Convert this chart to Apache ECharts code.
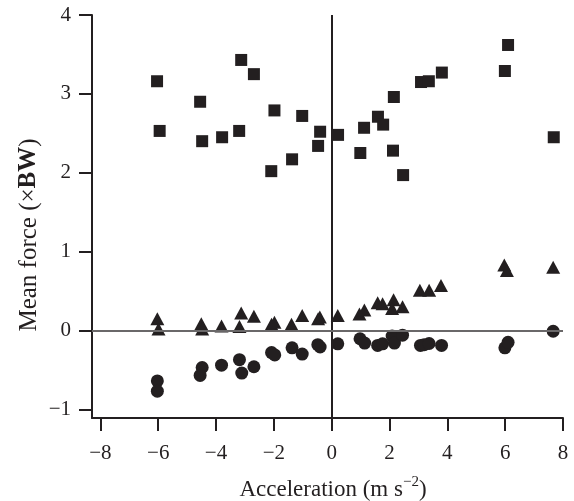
<!DOCTYPE html>
<html>
<head>
<meta charset="utf-8">
<script src="https://cdn.jsdelivr.net/npm/echarts@6/dist/echarts.min.js"></script>
<style>
  html, body { margin: 0; padding: 0; background: #fff; }
  #chart { width: 574px; height: 501px; }
</style>
</head>
<body>
<div id="chart"></div>
<script>
// Mean force (in body weights) against acceleration, three measures.
const squareAccel = [-6.04, -5.95, -4.55, -4.48, -3.79, -3.20, -3.13, -2.69, -1.98, -2.09, -1.37, -1.02, -0.40, -0.47, 0.22, 1.12, 0.99, 1.60, 1.78, 2.15, 2.12, 2.47, 3.09, 3.36, 3.81, 5.99, 6.10, 7.68];
const squareForce = [3.16, 2.53, 2.90, 2.40, 2.45, 2.53, 3.43, 3.25, 2.79, 2.02, 2.17, 2.72, 2.52, 2.34, 2.48, 2.57, 2.25, 2.71, 2.61, 2.96, 2.28, 1.97, 3.15, 3.16, 3.27, 3.29, 3.62, 2.45];

const triangleAccel = [-6.03, -5.99, -4.51, -4.48, -3.81, -3.19, -3.13, -2.69, -2.08, -1.98, -1.39, -1.02, -0.47, -0.41, 0.21, 0.96, 1.13, 1.59, 1.76, 2.14, 2.09, 2.45, 3.05, 3.37, 3.78, 5.97, 6.06, 7.66];
const triangleForce = [0.15, 0.02, 0.085, 0.02, 0.055, 0.05, 0.22, 0.18, 0.08, 0.105, 0.08, 0.19, 0.15, 0.17, 0.19, 0.21, 0.26, 0.35, 0.34, 0.39, 0.28, 0.30, 0.51, 0.51, 0.57, 0.83, 0.76, 0.80];

const circleAccel = [-6.03, -6.03, -4.48, -4.55, -3.81, -3.19, -3.11, -2.69, -2.08, -1.97, -1.37, -1.02, -0.48, -0.40, 0.21, 0.98, 1.14, 1.59, 1.76, 2.09, 2.17, 2.45, 3.07, 3.20, 3.37, 3.80, 5.99, 6.10, 7.66];
const circleForce = [-0.64, -0.77, -0.47, -0.57, -0.44, -0.37, -0.54, -0.46, -0.28, -0.31, -0.22, -0.30, -0.18, -0.21, -0.17, -0.105, -0.16, -0.19, -0.17, -0.07, -0.16, -0.06, -0.19, -0.18, -0.165, -0.19, -0.22, -0.15, -0.01];

const xTicks = [-8, -6, -4, -2, 0, 2, 4, 6, 8];
const yTicks = [-1, 0, 1, 2, 3, 4];

const ink = '#231f20';
const serif = '"Liberation Serif", "DejaVu Serif", serif';

function pairs(xs, ys) {
  return xs.map((x, i) => [x, ys[i]]);
}

function signed(v) {
  return v < 0 ? '\u2212' + Math.abs(v) : String(v);
}

const chart = echarts.init(document.getElementById('chart'));

const axisCommon = {
  axisLine: { show: true, onZero: false, lineStyle: { color: ink, width: 2 } },
  axisTick: { show: true, inside: false, length: 13, lineStyle: { color: ink, width: 2 } },
  splitLine: { show: false },
  axisLabel: { color: ink, fontFamily: serif, fontSize: 21 }
};

const markStyle = { color: ink, opacity: 1 };

chart.setOption({
  animation: false,
  backgroundColor: '#ffffff',
  grid: { left: 92, right: 11, top: 15, bottom: 83, containLabel: false },
  xAxis: {
    type: 'value',
    min: -8.29,
    max: 8,
    ...axisCommon,
    axisTick: { ...axisCommon.axisTick, customValues: xTicks },
    axisLabel: { ...axisCommon.axisLabel, margin: 25, customValues: xTicks, formatter: signed }
  },
  yAxis: {
    type: 'value',
    min: -1.11,
    max: 4,
    ...axisCommon,
    axisTick: { ...axisCommon.axisTick, customValues: yTicks },
    axisLabel: { ...axisCommon.axisLabel, margin: 21, customValues: yTicks, formatter: signed }
  },
  series: [
    {
      type: 'scatter',
      data: pairs(squareAccel, squareForce),
      symbol: 'rect',
      symbolSize: 12,
      itemStyle: markStyle,
      z: 3,
      markLine: {
        silent: true,
        symbol: 'none',
        label: { show: false },
        data: [
          { xAxis: 0, lineStyle: { color: ink, width: 2, type: 'solid' } },
          { yAxis: 0, lineStyle: { color: '#6a6869', width: 2, type: 'solid' } }
        ]
      }
    },
    {
      type: 'scatter',
      data: pairs(triangleAccel, triangleForce),
      symbol: 'triangle',
      symbolSize: [14, 13],
      itemStyle: markStyle,
      z: 3
    },
    {
      type: 'scatter',
      data: pairs(circleAccel, circleForce),
      symbol: 'circle',
      symbolSize: 13,
      itemStyle: markStyle,
      z: 3
    }
  ],
  graphic: [
    {
      type: 'text',
      x: 333,
      y: 488,
      style: {
        text: '{a|Acceleration (m s}{sup|\u22122}{a|)}',
        align: 'center',
        verticalAlign: 'middle',
        rich: {
          a: { fontFamily: serif, fontSize: 23, fill: ink, lineHeight: 26, verticalAlign: 'bottom' },
          sup: { fontFamily: serif, fontSize: 15, fill: ink, lineHeight: 26, verticalAlign: 'top', padding: [0, 0, 8, 0] }
        }
      }
    },
    {
      type: 'text',
      x: 29,
      y: 235,
      rotation: Math.PI / 2,
      style: {
        text: '{a|Mean force (\u00d7}{b|BW}{a|)}',
        align: 'center',
        verticalAlign: 'middle',
        rich: {
          a: { fontFamily: serif, fontSize: 25, fill: ink },
          b: { fontFamily: serif, fontSize: 25, fontWeight: 'bold', fill: ink }
        }
      }
    }
  ]
});
</script>
</body>
</html>
